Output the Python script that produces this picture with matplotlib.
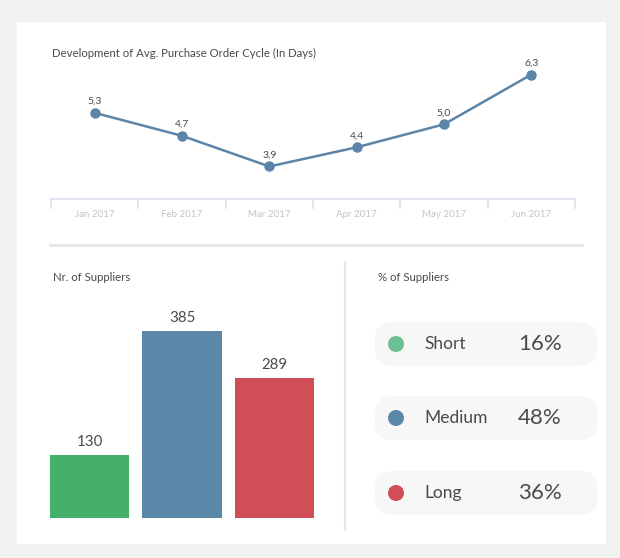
import matplotlib
matplotlib.use("Agg")
import matplotlib.pyplot as plt
from matplotlib.patches import FancyBboxPatch, Rectangle, Ellipse
from matplotlib.lines import Line2D

plt.rcParams['font.family'] = ['Lato', 'DejaVu Sans']

# ---- data ----
months = ["Jan 2017", "Feb 2017", "Mar 2017", "Apr 2017", "May 2017", "Jun 2017"]
cycle_days = [5.3, 4.7, 3.9, 4.4, 5.0, 6.3]
cycle_labels = ["5,3", "4,7", "3,9", "4,4", "5,0", "6,3"]

supplier_groups = ["Short", "Medium", "Long"]
supplier_counts = [130, 385, 289]
supplier_pct = [16, 48, 36]

bar_colors = ["#45b06a", "#5b87a8", "#d04e55"]
dot_colors = ["#6cbf8e", "#5b87a8", "#d04e55"]

W, H = 620, 558
fig = plt.figure(figsize=(W / 100, H / 100), dpi=100)
fig.patch.set_facecolor("#f2f2f2")

def fx(x):
    return x / W

def fy(y):
    return 1 - y / H

def rect(x0, y0, x1, y1):
    return [fx(x0), fy(y1), fx(x1) - fx(x0), fy(y0) - fy(y1)]

TXT = "#4a4a4a"

# white panel
fig.patches.append(Rectangle((fx(17), fy(544)), fx(606) - fx(17), fy(22) - fy(544),
                             transform=fig.transFigure, facecolor="white",
                             edgecolor="none", zorder=-10))

# ---- line chart ----
ax = fig.add_axes(rect(51, 60, 575, 199))
ax.set_zorder(5)
ax.set_facecolor("none")
x = list(range(len(months)))
ax.plot(x, cycle_days, color="#5b84a8", lw=1.8, marker="o", ms=6.5,
        markerfacecolor="#5b84a8", markeredgecolor="#5b84a8", zorder=3,
        clip_on=False)
for xi, v, lab in zip(x, cycle_days, cycle_labels):
    ax.annotate(lab, (xi, v), xytext=(0, 6.5), textcoords="offset points",
                ha="center", va="baseline", fontsize=7.5, color=TXT)
ax.set_xlim(-0.5, len(months) - 0.5)
ax.set_ylim(3.05, 6.68)
ax.axis("off")

# tick bar
axis_col = "#d9e1ec"
fig.lines.append(Line2D([fx(51), fx(575)], [fy(199), fy(199)],
                        transform=fig.transFigure, color=axis_col, lw=1.2))
band = (575 - 51) / len(months)
for i in range(len(months) + 1):
    xp = 51 + i * band
    fig.lines.append(Line2D([fx(xp), fx(xp)], [fy(199), fy(208)],
                            transform=fig.transFigure, color=axis_col, lw=1.2))
for i, m in enumerate(months):
    xp = 51 + (i + 0.5) * band
    fig.text(fx(xp), fy(217), m, ha="center", va="baseline", fontsize=7,
             color="#c4c4c4")

fig.text(fx(52), fy(57), "Development of Avg. Purchase Order Cycle (In Days)",
         ha="left", va="baseline", fontsize=8.2, color=TXT)

# separator
fig.lines.append(Line2D([fx(50), fx(582)], [fy(245), fy(245)],
                        transform=fig.transFigure, color="#e6e6e6", lw=2))
# vertical divider
fig.lines.append(Line2D([fx(345), fx(345)], [fy(262), fy(530)],
                        transform=fig.transFigure, color="#e6e6e6", lw=1.5))

# ---- bar chart ----
fig.text(fx(53), fy(281), "Nr. of Suppliers", ha="left", va="baseline",
         fontsize=8.2, color=TXT)
bx = fig.add_axes(rect(50, 300, 314, 518))
bx.set_zorder(5)
bx.set_facecolor("none")
bpos = list(range(len(supplier_groups)))
bx.bar(bpos, supplier_counts, width=0.86, color=bar_colors)
for p, v in zip(bpos, supplier_counts):
    bx.text(p, v + 12, str(v), ha="center", va="bottom", fontsize=10.8,
            color=TXT)
bx.set_xlim(-0.43, 2.43)
bx.set_ylim(0, 448.6)
bx.axis("off")

# ---- percent panel ----
fig.text(fx(378), fy(281), "% of Suppliers", ha="left", va="baseline",
         fontsize=8.2, color=TXT)
row_y = [344, 418, 493]
for yc, g, pct, col in zip(row_y, supplier_groups, supplier_pct, dot_colors):
    box = FancyBboxPatch((fx(375), fy(yc + 22)), fx(597) - fx(375),
                         fy(yc - 22) - fy(yc + 22),
                         boxstyle="round,pad=0,rounding_size=0.03",
                         transform=fig.transFigure, facecolor="#f7f7f7",
                         edgecolor="none", mutation_aspect=H / W)
    fig.patches.append(box)
    fig.patches.append(Ellipse((fx(396), fy(yc)), 16 / W, 16 / H,
                               transform=fig.transFigure, facecolor=col,
                               edgecolor="none"))
    fig.text(fx(424), fy(yc), g, ha="left", va="center", fontsize=12.5,
             color=TXT)
    fig.text(fx(518), fy(yc), f"{pct}%", ha="left", va="center",
             fontsize=16, color=TXT)

fig.savefig("out.png", dpi=100, facecolor=fig.get_facecolor())
